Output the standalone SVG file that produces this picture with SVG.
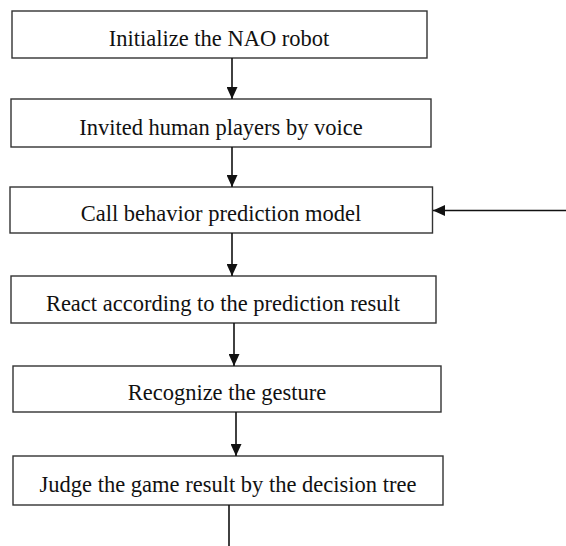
<svg xmlns="http://www.w3.org/2000/svg" width="566" height="546" viewBox="0 0 566 546">
  <defs>
    <marker id="arrow" markerWidth="12" markerHeight="11" refX="12" refY="5.5" orient="auto" markerUnits="userSpaceOnUse">
      <path d="M0,0 L12,5.5 L0,11 Z" fill="#111"/>
    </marker>
    <style>
      .box { fill: #fff; stroke: #333; stroke-width: 1.4; }
      .label { font-family: "Liberation Serif", "Times New Roman", serif; font-size: 22.5px; fill: #111; text-anchor: middle; }
      .conn { stroke: #111; stroke-width: 1.6; fill: none; }
    </style>
  </defs>
  <rect width="566" height="546" fill="#fff"/>

  <g id="init">
    <rect class="box" x="12" y="11" width="415" height="47"/>
    <text class="label" x="219" y="46">Initialize the NAO robot</text>
  </g>
  <g id="invite">
    <rect class="box" x="11" y="99" width="420" height="48"/>
    <text class="label" x="221" y="135">Invited human players by voice</text>
  </g>
  <g id="predict">
    <rect class="box" x="10" y="187" width="422.5" height="46"/>
    <text class="label" x="221" y="221">Call behavior prediction model</text>
  </g>
  <g id="react">
    <rect class="box" x="11" y="276" width="425" height="47"/>
    <text class="label" x="223" y="311">React according to the prediction result</text>
  </g>
  <g id="gesture">
    <rect class="box" x="13" y="366" width="428" height="46"/>
    <text class="label" x="227" y="400">Recognize the gesture</text>
  </g>
  <g id="judge">
    <rect class="box" x="13" y="456" width="430" height="49"/>
    <text class="label" x="228" y="492">Judge the game result by the decision tree</text>
  </g>

  <g id="connectors">
    <line class="conn" x1="232" y1="58" x2="232" y2="99" marker-end="url(#arrow)"/>
    <line class="conn" x1="232" y1="147" x2="232" y2="187" marker-end="url(#arrow)"/>
    <line class="conn" x1="232" y1="233" x2="232" y2="276" marker-end="url(#arrow)"/>
    <line class="conn" x1="234" y1="323" x2="234" y2="366" marker-end="url(#arrow)"/>
    <line class="conn" x1="236" y1="412" x2="236" y2="456" marker-end="url(#arrow)"/>
    <line class="conn" x1="566" y1="210.5" x2="433" y2="210.5" marker-end="url(#arrow)"/>
    <line class="conn" x1="229" y1="505" x2="229" y2="546"/>
  </g>
</svg>
